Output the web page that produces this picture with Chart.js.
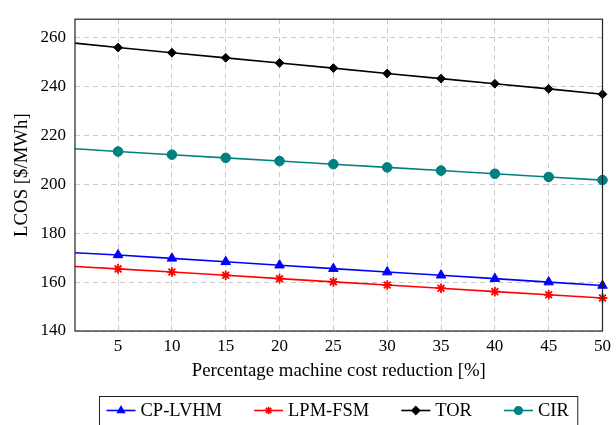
<!DOCTYPE html>
<html>
<head>
<meta charset="utf-8">
<script src="https://cdn.jsdelivr.net/npm/chart.js@4.4.0/dist/chart.umd.min.js"></script>
<style>html,body{margin:0;padding:0;background:#fff;}</style>
</head>
<body>
<canvas id="myChart1" width="616" height="425"></canvas>
<script>
const reduction = [1, 5, 10, 15, 20, 25, 30, 35, 40, 45, 50];
const cpLvhm = [172.0, 171.1, 169.7, 168.3, 166.9, 165.5, 164.1, 162.8, 161.4, 160.0, 158.6];
const lpmFsm = [166.4, 165.4, 164.1, 162.8, 161.4, 160.1, 158.8, 157.5, 156.1, 154.8, 153.5];
const tor = [257.7, 255.9, 253.8, 251.7, 249.6, 247.5, 245.3, 243.2, 241.1, 239.0, 236.8];
const cir = [214.5, 213.4, 212.1, 210.8, 209.5, 208.2, 206.9, 205.6, 204.3, 203.0, 201.7];
const xTicks = [5, 10, 15, 20, 25, 30, 35, 40, 45, 50];
const yTicks = [140, 160, 180, 200, 220, 240, 260];

const FONT = 'Liberation Serif';

function pts(vals) {
    return vals.map((v, i) => ({x: reduction[i], y: v}));
}

function series(label, vals, color, style, r) {
    return {
        label: label,
        data: pts(vals),
        borderColor: color,
        backgroundColor: color,
        borderWidth: 1.6,
        pointStyle: style,
        pointRadius: c => c.dataIndex === 0 ? 0 : r,
        pointBorderWidth: style === 'star' ? 1.8 : 1,
        pointHoverRadius: r,
        tension: 0,
        clip: false
    };
}

// frame around plot area
const frame = {
    id: 'frame',
    afterDatasetsDraw(chart) {
        const a = chart.chartArea, ctx = chart.ctx;
        ctx.save();
        ctx.strokeStyle = '#222';
        ctx.lineWidth = 1.2;
        ctx.strokeRect(a.left, a.top, a.right - a.left, a.bottom - a.top);
        ctx.restore();
    }
};

// boxed legend with line + marker samples
const boxLegend = {
    id: 'boxLegend',
    afterDraw(chart) {
        const ctx = chart.ctx;
        const sets = chart.data.datasets;
        ctx.save();
        ctx.font = '18.5px "' + FONT + '"';
        const lineLen = 29, gapText = 5, gapItem = 32, padL = 7, padR = 9;
        let w = padL + padR;
        sets.forEach((d, i) => {
            w += lineLen + gapText + ctx.measureText(d.label).width;
            if (i < sets.length - 1) w += gapItem;
        });
        const cx = 338.5, top = 396.5, h = 30;
        let x = Math.round(cx - w / 2) + 0.5;
        ctx.strokeStyle = '#222';
        ctx.lineWidth = 1;
        ctx.strokeRect(x, top, w, h);
        const y = 410.5;
        x += padL;
        sets.forEach(d => {
            ctx.strokeStyle = d.borderColor;
            ctx.fillStyle = d.backgroundColor;
            ctx.lineWidth = 1.6;
            ctx.beginPath();
            ctx.moveTo(x, y);
            ctx.lineTo(x + lineLen, y);
            ctx.stroke();
            Chart.helpers.drawPoint(ctx, {
                pointStyle: d.pointStyle, radius: 3.8, rotation: 0,
                borderWidth: d.pointStyle === 'star' ? 1.5 : 1
            }, x + lineLen / 2, y);
            x += lineLen + gapText;
            ctx.fillStyle = '#000';
            ctx.textBaseline = 'middle';
            ctx.fillText(d.label, x, y + 1);
            x += ctx.measureText(d.label).width + gapItem;
        });
        ctx.restore();
    }
};

const ctx = document.getElementById('myChart1');
window.myChart = new Chart(ctx, {
    type: 'line',
    data: {
        datasets: [
            series('CP-LVHM', cpLvhm, '#0000ff', 'triangle', 5.5),
            series('LPM-FSM', lpmFsm, '#ff0000', 'star', 4.8),
            series('TOR', tor, '#000000', 'rectRot', 4.4),
            series('CIR', cir, '#008080', 'circle', 4.8)
        ]
    },
    options: {
        responsive: false,
        animation: false,
        layout: {padding: {top: 9, right: 11, bottom: 30, left: 0}},
        plugins: {legend: {display: false}, tooltip: {enabled: false}},
        scales: {
            x: {
                type: 'linear',
                min: 1,
                max: 50,
                afterBuildTicks: s => { s.ticks = xTicks.map(v => ({value: v})); },
                afterFit: s => { s.height = 64; },
                grid: {color: '#cacaca', drawTicks: false, lineWidth: 1},
                border: {display: false, dash: [5, 4]},
                ticks: {color: '#000', padding: 5, font: {family: FONT, size: 17}, maxRotation: 0},
                title: {display: true, text: 'Percentage machine cost reduction [%]', color: '#000',
                        font: {family: FONT, size: 18.8}, padding: {top: 0, bottom: 13}}
            },
            y: {
                min: 140,
                max: 267.5,
                afterBuildTicks: s => { s.ticks = yTicks.map(v => ({value: v})); },
                afterFit: s => { s.width = 75; },
                grid: {color: '#cacaca', drawTicks: false, lineWidth: 1},
                border: {display: false, dash: [5, 4]},
                ticks: {color: '#000', padding: 9, font: {family: FONT, size: 17}},
                title: {display: true, text: 'LCOS [$/MWh]', color: '#000',
                        font: {family: FONT, size: 18.8}, padding: {top: 11, bottom: 0}}
            }
        }
    },
    plugins: [frame, boxLegend]
});
</script>
</body>
</html>
